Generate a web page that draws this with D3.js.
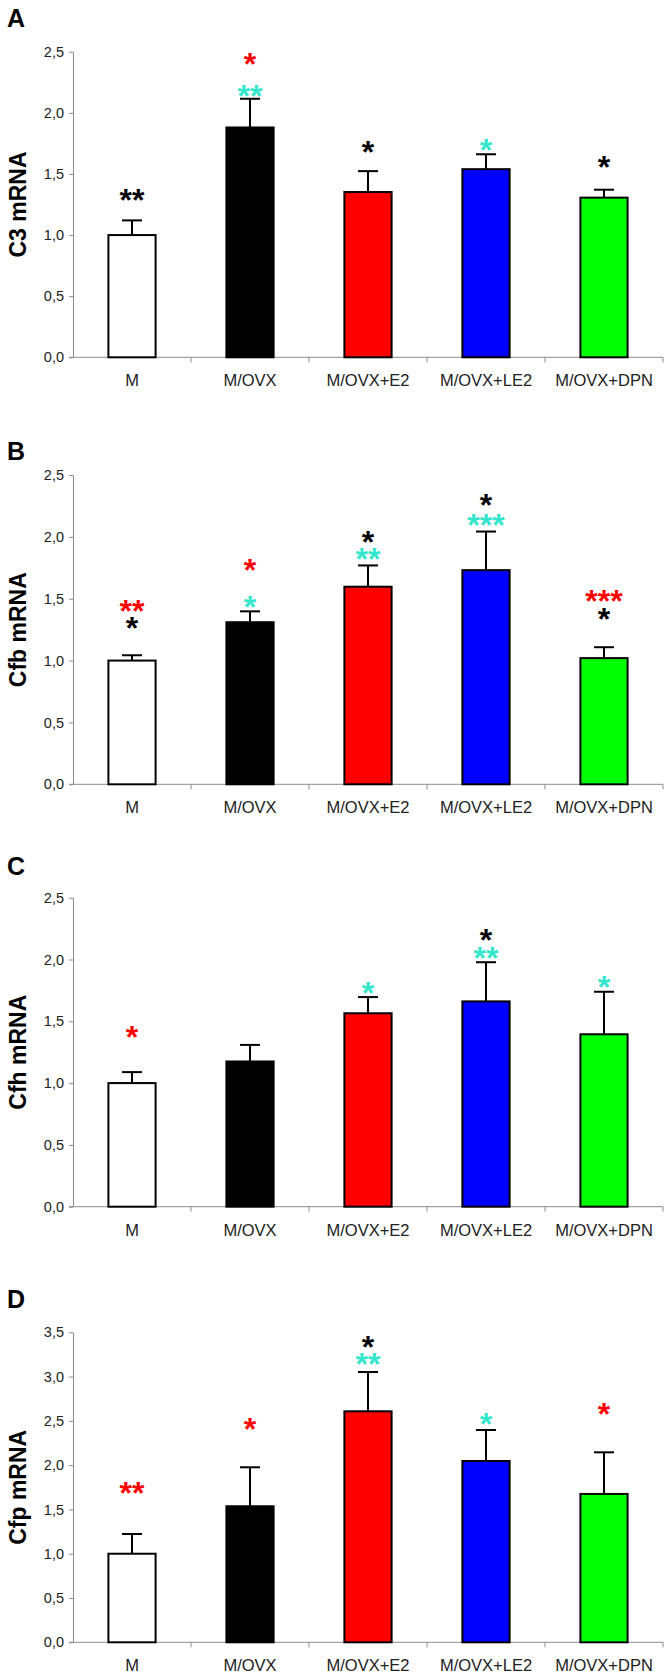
<!DOCTYPE html>
<html>
<head>
<meta charset="utf-8">
<script src="https://cdn.jsdelivr.net/npm/d3@7"></script>
<style>
  html, body { margin: 0; padding: 0; background: #fff; }
  svg { display: block; }
</style>
</head>
<body>
<svg id="chart" width="672" height="1677"></svg>
<script>
// ---------------- DATA ----------------
const categories = ["M", "M/OVX", "M/OVX+E2", "M/OVX+LE2", "M/OVX+DPN"];
const barColors = ["#ffffff", "#000000", "#ff0000", "#0000ff", "#00ff00"];
const starColors = { k: "#000000", r: "#ff0000", c: "#33e6cc" };

const panelLetters = ["A", "B", "C", "D"];
const yTitles = ["C3 mRNA", "Cfb mRNA", "Cfh mRNA", "Cfp mRNA"];
const yMax = [2.5, 2.5, 2.5, 3.5];

const c3Mean  = [1.00, 1.88, 1.352, 1.539, 1.306];
const c3Sem   = [0.12, 0.235, 0.171, 0.122, 0.065];
const cfbMean = [1.00, 1.31, 1.597, 1.731, 1.02];
const cfbSem  = [0.043, 0.088, 0.172, 0.312, 0.088];
const cfhMean = [1.00, 1.175, 1.565, 1.661, 1.395];
const cfhSem  = [0.089, 0.134, 0.131, 0.317, 0.344];
const cfpMean = [1.00, 1.536, 2.608, 2.047, 1.675];
const cfpSem  = [0.223, 0.44, 0.444, 0.35, 0.47];

// significance marks: [category index, text, colour key, value level]
const c3Stars = [
  [0, "**", "k", 1.344], [1, "*", "r", 2.456], [1, "**", "c", 2.193],
  [2, "*", "k", 1.74], [3, "*", "c", 1.754], [4, "*", "k", 1.61]
];
const cfbStars = [
  [0, "**", "r", 1.46], [0, "*", "k", 1.317],
  [1, "*", "r", 1.788], [1, "*", "c", 1.492],
  [2, "*", "k", 2.016], [2, "**", "c", 1.874],
  [3, "*", "k", 2.312], [3, "***", "c", 2.151],
  [4, "***", "r", 1.538], [4, "*", "k", 1.39]
];
const cfhStars = [
  [0, "*", "r", 1.425], [2, "*", "c", 1.788],
  [3, "*", "k", 2.215], [3, "**", "c", 2.07], [4, "*", "c", 1.836]
];
const cfpStars = [
  [0, "**", "r", 1.765], [1, "*", "r", 2.484],
  [2, "*", "k", 3.414], [2, "**", "c", 3.218],
  [3, "*", "c", 2.548], [4, "*", "r", 2.661]
];

const means = [c3Mean, cfbMean, cfhMean, cfpMean];
const sems = [c3Sem, cfbSem, cfhSem, cfpSem];
const stars = [c3Stars, cfbStars, cfhStars, cfpStars];

// ---------------- LAYOUT ----------------
const plotTop = [51.7, 475, 897.7, 1332.3];
const plotBottom = [357.3, 784.3, 1206.7, 1642.3];
const letterBase = [27, 460, 875, 1308];
const xLeft = 73, xRight = 663;

const fmt = d3.formatLocale({ decimal: ",", thousands: ".", grouping: [3], currency: ["", ""] }).format(".1f");
const svg = d3.select("#chart");
const FONT = "'Liberation Sans', Arial, Helvetica, sans-serif";

const x = d3.scaleBand().domain(categories).range([xLeft, xRight]).paddingInner(0.6).paddingOuter(0.3);

for (let p = 0; p < 4; p++) {
  const g = svg.append("g");
  const y = d3.scaleLinear().domain([0, yMax[p]]).range([plotBottom[p], plotTop[p]]);

  // panel letter
  g.append("text").attr("x", 7).attr("y", letterBase[p])
    .attr("font-family", FONT).attr("font-weight", "bold").attr("font-size", 25)
    .attr("fill", "#000").text(panelLetters[p]);

  // y axis title
  const cy = (plotTop[p] + plotBottom[p]) / 2;
  g.append("text").attr("transform", `translate(25.5,${cy}) rotate(-90)`)
    .attr("text-anchor", "middle")
    .attr("font-family", FONT).attr("font-weight", "bold").attr("font-size", 23)
    .attr("fill", "#000").text(yTitles[p]);

  // y axis
  const ticks = d3.range(0, yMax[p] + 0.001, 0.5);
  const ya = g.append("g").attr("transform", `translate(${xLeft},0)`)
    .call(d3.axisLeft(y).tickValues(ticks).tickFormat(fmt).tickSizeOuter(0).tickSizeInner(4).tickPadding(5));
  ya.select(".domain").attr("stroke", "#8c8c8c");
  ya.selectAll(".tick line").attr("stroke", "#8c8c8c");
  ya.selectAll(".tick text").attr("font-family", FONT).attr("font-size", 14.5).attr("fill", "#222");

  // x axis with ticks at band boundaries
  g.append("line").attr("x1", xLeft - 4).attr("x2", xRight)
    .attr("y1", plotBottom[p]).attr("y2", plotBottom[p]).attr("stroke", "#8c8c8c");
  const step = x.step();
  const bounds = d3.range(1, categories.length + 1).map(i => x(categories[0]) - x.paddingOuter() * step + i * step);
  g.selectAll(".xb").data(bounds).join("line")
    .attr("x1", d => d).attr("x2", d => d)
    .attr("y1", plotBottom[p]).attr("y2", plotBottom[p] + 5).attr("stroke", "#8c8c8c");
  g.selectAll(".xl").data(categories).join("text")
    .attr("x", d => x(d) + x.bandwidth() / 2).attr("y", plotBottom[p] + 29)
    .attr("text-anchor", "middle").attr("font-family", FONT).attr("font-size", 16.5)
    .attr("fill", "#222").text(d => d);

  const data = categories.map((c, i) => ({ c, i, m: means[p][i], s: sems[p][i] }));

  // error bars (upper only)
  g.selectAll(".eb").data(data).join("line")
    .attr("x1", d => x(d.c) + x.bandwidth() / 2).attr("x2", d => x(d.c) + x.bandwidth() / 2)
    .attr("y1", d => y(d.m)).attr("y2", d => y(d.m + d.s))
    .attr("stroke", "#000").attr("stroke-width", 2);
  g.selectAll(".ec").data(data).join("line")
    .attr("x1", d => x(d.c) + x.bandwidth() / 2 - 10).attr("x2", d => x(d.c) + x.bandwidth() / 2 + 10)
    .attr("y1", d => y(d.m + d.s)).attr("y2", d => y(d.m + d.s))
    .attr("stroke", "#000").attr("stroke-width", 2);

  // bars
  g.selectAll(".bar").data(data).join("rect")
    .attr("x", d => x(d.c)).attr("width", x.bandwidth())
    .attr("y", d => y(d.m)).attr("height", d => y(0) - y(d.m))
    .attr("fill", d => barColors[d.i]).attr("stroke", "#000").attr("stroke-width", 2);

  // significance stars: one text per category, stacked marks as tspans
  const grouped = d3.groups(stars[p], d => d[0]);
  const st = g.selectAll(".star").data(grouped).join("text")
    .attr("class", "star")
    .attr("text-anchor", "middle")
    .attr("font-family", FONT).attr("font-weight", "bold").attr("font-size", 32);
  st.selectAll("tspan").data(d => d[1]).join("tspan")
    .attr("x", d => x(categories[d[0]]) + x.bandwidth() / 2)
    .attr("y", d => y(d[3]) + 0.56 * 32)
    .attr("fill", d => starColors[d[2]])
    .text(d => d[1]);
}
</script>
</body>
</html>
